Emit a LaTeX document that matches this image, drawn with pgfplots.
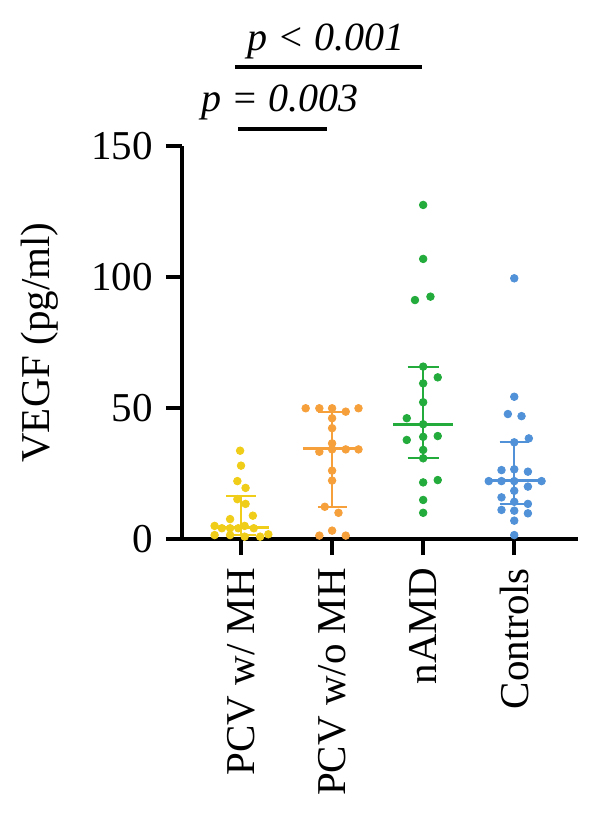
\documentclass[border=0pt]{standalone}
\usepackage{pgfplots}
\pgfplotsset{compat=1.18}
\usepackage{fontspec}
\setmainfont{Liberation Serif}
\definecolor{cY}{RGB}{240,205,25}
\definecolor{cO}{RGB}{246,160,60}
\definecolor{cG}{RGB}{35,172,60}
\definecolor{cB}{RGB}{80,145,215}
\begin{document}
\begin{tikzpicture}
\begin{axis}[
  scale only axis,
  width=198pt, height=196.5pt,
  xmin=-0.648, xmax=3.70,
  ymin=0, ymax=150,
  clip=false,
  axis x line*=bottom, axis y line*=left,
  axis line style={line width=1.8pt, -},
  every tick/.style={line width=1.8pt, black},
  tick align=outside,
  major tick length=8pt,
  ytick={0,50,100,150},
  xtick={0,1,2,3},
  xticklabels={PCV w/ MH, PCV w/o MH, nAMD, Controls},
  font=\fontsize{20.5}{24}\selectfont,
  tick label style={font=\fontsize{20.5}{24}\selectfont},
  /pgf/number format/assume math mode=true,
  yticklabel style={xshift=-3pt},
  xticklabel style={rotate=90, anchor=east, xshift=-3pt},
  ylabel={VEGF (pg/ml)},
  ylabel style={at={(axis description cs:-0.36,0.5)}, anchor=center, rotate=0},
]
% ---- medians and IQR ----
\addplot[cY, line width=1.6pt] coordinates {(-0.31,4.5) (0.31,4.5)};
\addplot[cY, line width=1.1pt] coordinates {(0,1.5) (0,16.4)};
\addplot[cY, line width=1.1pt] coordinates {(-0.16,16.4) (0.16,16.4)};
\addplot[cY, line width=1.1pt] coordinates {(-0.16,1.5) (0.16,1.5)};

\addplot[cO, line width=1.6pt] coordinates {(0.68,34.5) (1.32,34.5)};
\addplot[cO, line width=1.1pt] coordinates {(1,12.3) (1,48.6)};
\addplot[cO, line width=1.1pt] coordinates {(0.84,48.6) (1.16,48.6)};
\addplot[cO, line width=1.1pt] coordinates {(0.84,12.3) (1.16,12.3)};

\addplot[cG, line width=1.6pt] coordinates {(1.67,43.8) (2.33,43.8)};
\addplot[cG, line width=1.1pt] coordinates {(2,31.0) (2,65.5)};
\addplot[cG, line width=1.1pt] coordinates {(1.83,65.5) (2.17,65.5)};
\addplot[cG, line width=1.1pt] coordinates {(1.83,31.0) (2.17,31.0)};

\addplot[cB, line width=1.6pt] coordinates {(2.68,22.3) (3.32,22.3)};
\addplot[cB, line width=1.1pt] coordinates {(3,13.4) (3,36.9)};
\addplot[cB, line width=1.1pt] coordinates {(2.84,36.9) (3.16,36.9)};
\addplot[cB, line width=1.1pt] coordinates {(2.84,13.4) (3.16,13.4)};

% ---- points ----
\addplot[only marks, mark=*, mark size=1.9pt, cY, mark options={draw=cY, fill=cY}] coordinates {
(-0.01,33.7) (0,28.0) (-0.04,22.1) (0.05,19.5) (-0.04,15.2) (0.05,13.4)
(-0.12,7.6) (0.13,8.9) (-0.29,5.0) (-0.21,4.1) (-0.12,4.1) (-0.03,4.1)
(0.04,5.0) (0.14,4.1) (-0.29,1.5) (-0.12,1.5) (0.04,0.9) (0.21,0.9) (0.30,1.8)
};
\addplot[only marks, mark=*, mark size=1.9pt, cO, mark options={draw=cO, fill=cO}] coordinates {
(0.71,49.9) (0.86,49.9) (1,49.9) (1.29,49.9) (1.15,48.6)
(1,46.1) (1,42.3) (1,36.5)
(0.86,33.3) (1,34.2) (1.15,34.2) (1.29,34.2)
(1,26.1) (1,22.3) (0.92,12.3) (1.07,10.0)
(0.86,1.3) (1,3.2) (1.15,1.3)
};
\addplot[only marks, mark=*, mark size=1.9pt, cG, mark options={draw=cG, fill=cG}] coordinates {
(2,127.5) (2,106.9) (1.91,91.2) (2.08,92.5)
(2,65.8) (2.16,61.7) (2,59.4) (2,52.2) (1.82,46.1) (2,43.8)
(1.82,37.8) (2,39.0) (2.16,39.3) (2,34.0) (2,30.8)
(2,21.6) (2.16,22.5) (2,14.9) (2,10.0)
};
\addplot[only marks, mark=*, mark size=1.9pt, cB, mark options={draw=cB, fill=cB}] coordinates {
(3,99.5) (3,54.3) (2.93,47.7) (3.08,46.9)
(3,36.9) (3.16,38.4)
(2.86,26.3) (3,26.6) (3.15,25.7)
(2.72,22.1) (2.86,22.1) (3,22.1) (3.30,22.1) (3.15,20.0)
(3,18.4) (2.86,15.9) (3,14.2) (3.15,13.4)
(2.86,11.1) (3,10.8) (3.15,9.8)
(3,7.0) (3,1.5)
};

% ---- significance annotations ----
\draw[line width=2pt] (axis cs:-0.066,180.3) -- (axis cs:1.99,180.3);
\draw[line width=2pt] (axis cs:-0.033,156.5) -- (axis cs:0.945,156.5);
\node[anchor=base, font=\fontsize{20}{23}\selectfont\itshape] at (axis cs:0.93,186.6) {p\hspace{0.25em}<\hspace{0.25em}0.001};
\node[anchor=base, font=\fontsize{20}{23}\selectfont\itshape] at (axis cs:0.43,163) {p\hspace{0.25em}=\hspace{0.25em}0.003};
\end{axis}
\path[use as bounding box] (-91pt,-147.5pt) rectangle (209pt,269.5pt);
\end{tikzpicture}
\end{document}
